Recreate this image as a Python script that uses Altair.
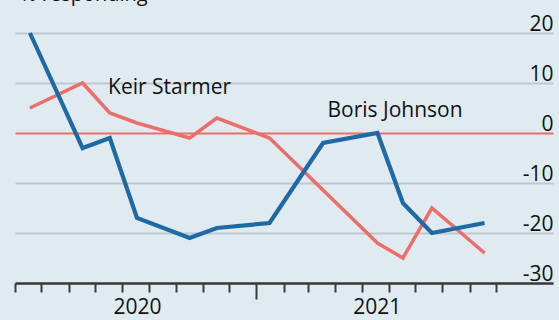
import altair as alt
import pandas as pd

# ---- data ----
johnson_dates = ["2020-04-18", "2020-06-17", "2020-07-18", "2020-08-18", "2020-10-17",
                 "2020-11-17", "2021-01-16", "2021-03-18", "2021-05-19", "2021-06-17",
                 "2021-07-20", "2021-09-18"]
johnson_values = [20, -3, -1, -17, -21, -19, -18, -2, 0, -14, -20, -18]

starmer_dates = ["2020-04-18", "2020-06-17", "2020-07-18", "2020-08-18", "2020-10-17",
                 "2020-11-17", "2021-01-16", "2021-05-19", "2021-06-17", "2021-07-20",
                 "2021-09-18"]
starmer_values = [5, 10, 4, 2, -1, 3, -1, -22, -25, -15, -24]

label_names = ["Keir Starmer", "Boris Johnson"]
label_dates = ["2020-07-16", "2021-03-23"]
label_values = [7.9, 3.3]

subtitle = ["% responding"]

tick_months = [(2020, m) for m in range(4, 13)] + [(2021, m) for m in range(1, 11)]
y_ticks = [-30, -20, -10, 0, 10, 20]

BLUE = "#1f69a4"
RED = "#ea6f6a"
GRID = "#bfc8ce"
AXIS = "#3a3a3a"
BG = "#e0eaf1"
FONT = "Open Sans"

johnson = pd.DataFrame({"date": johnson_dates, "value": johnson_values})
starmer = pd.DataFrame({"date": starmer_dates, "value": starmer_values})
labels = pd.DataFrame({"name": label_names, "date": label_dates, "value": label_values})
sub_df = pd.DataFrame({"t": subtitle})

x_axis = alt.Axis(
    values=[alt.DateTime(year=y, month=m, date=1) for y, m in tick_months],
    title=None, grid=False,
    domainColor=AXIS, domainWidth=2.5,
    tickColor=AXIS, tickWidth=2,
    tickSize={"condition": {"test": "month(datum.value) == 0", "value": 16}, "value": 9},
    labelExpr="(year(datum.value) == 2020 && month(datum.value) == 7) ? '2020' : "
              "((year(datum.value) == 2021 && month(datum.value) == 4) ? '2021' : '')",
    labelOffset=15, labelPadding=4, labelBaseline="top", labelAlign="center",
    labelFontSize=21, labelFont=FONT, labelColor="#111111",
    labelFlush=False, labelOverlap=False,
)
y_axis = alt.Axis(
    values=y_ticks, orient="right", title=None,
    domain=False, ticks=False, tickSize=0,
    grid=True, gridWidth=2,
    gridColor={"condition": {"test": "datum.value === 0", "value": RED}, "value": GRID},
    labelExpr="'' + datum.value",
    labelAlign="right", labelBaseline="alphabetic", labelPadding=0, labelOffset=-3,
    labelFontSize=21, labelFont=FONT, labelColor="#111111",
    labelFlush=False, labelOverlap=False,
)

x_enc = alt.X("date:T", axis=x_axis,
              scale=alt.Scale(domain=[alt.DateTime(year=2020, month=4, date=1),
                                      alt.DateTime(year=2021, month=12, date=5)]))
y_enc = alt.Y("value:Q", axis=y_axis, scale=alt.Scale(domain=[-30, 20], nice=False, zero=False))

starmer_line = alt.Chart(starmer).mark_line(color=RED, strokeWidth=3.5).encode(x=x_enc, y=y_enc)
johnson_line = alt.Chart(johnson).mark_line(color=BLUE, strokeWidth=4.2).encode(x=x_enc, y=y_enc)
label_text = alt.Chart(labels).mark_text(
    align="left", baseline="alphabetic", fontSize=21, font=FONT, color="#111111"
).encode(x=x_enc, y=y_enc, text="name:N")
sub_text = alt.Chart(sub_df).mark_text(
    align="left", baseline="alphabetic", fontSize=20, font=FONT, color="#111111"
).encode(text="t:N", x=alt.value(5), y=alt.value(-32))

chart = alt.layer(starmer_line, johnson_line, label_text, sub_text).properties(
    width=538, height=250,
    padding={"left": 15, "top": 33, "right": 6, "bottom": 37},
    autosize=alt.AutoSizeParams(type="none"),
    background=BG,
).configure_view(stroke=None)

chart.save("out.html", embed_options={"renderer": "svg", "actions": False})
